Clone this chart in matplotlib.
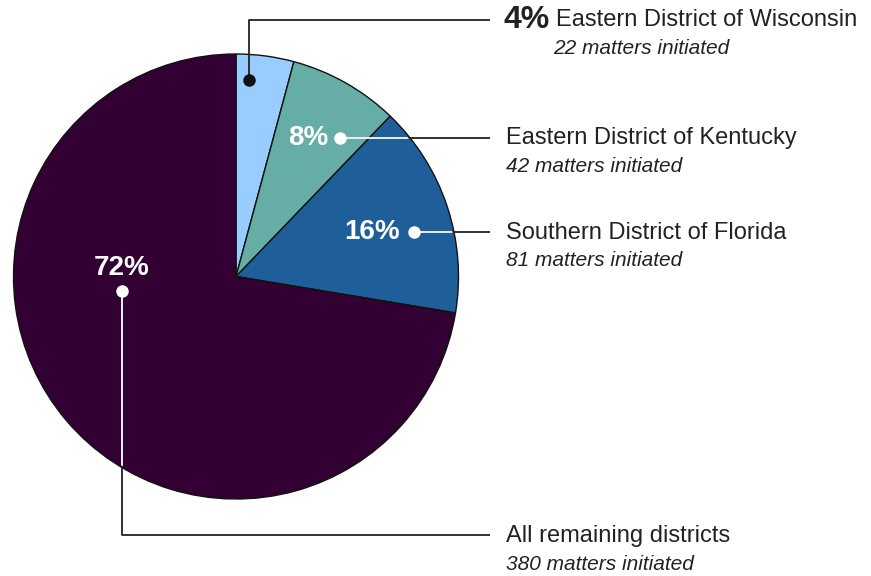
import matplotlib.pyplot as plt
from matplotlib.patches import Circle

# matters initiated per district
districts = ["Eastern District of Wisconsin", "Eastern District of Kentucky",
             "Southern District of Florida", "All remaining districts"]
matters = [22, 42, 81, 380]
pct_labels = ["4%", "8%", "16%", "72%"]
colors = ["#99ccff", "#66ada5", "#1f5f99", "#330033"]

W, H = 871, 576
plt.rcParams["font.family"] = ["Liberation Sans", "DejaVu Sans"]
fig = plt.figure(figsize=(W / 100, H / 100), dpi=100)
ax = fig.add_axes([0, 0, 1, 1])


def py(y):
    # pixel row (top-down) to data y
    return H - y


cx, cy, rad = 236, py(276.5), 222.5
wedges, _ = ax.pie(matters, colors=colors, startangle=90, counterclock=False,
                   center=(cx, cy), radius=rad,
                   wedgeprops=dict(edgecolor="#111111", linewidth=1.0))
ax.set_xlim(0, W)
ax.set_ylim(0, H)
ax.axis("off")

clip = Circle((cx, cy), rad - 1.5, transform=ax.transData)

# label layout: dot position, connector path, text row, line colour inside pie
layout = [
    dict(dot=(249, 80), path=[(249, 80), (249, 20), (490, 20)], row=20, inner="#111111"),
    dict(dot=(340, 138), path=[(340, 138), (490, 138)], row=138, inner="white"),
    dict(dot=(414, 232), path=[(414, 232), (490, 232)], row=233, inner="white"),
    dict(dot=(122, 291), path=[(122, 291), (122, 535), (490, 535)], row=536, inner="white"),
]
pct_pos = [None, (308, 138), (372, 232), (122, 268)]

text_col = "#222222"
name_fs, sub_fs, pct_fs = 17, 15, 20
for i, lay in enumerate(layout):
    xs = [p[0] for p in lay["path"]]
    ys = [py(p[1]) for p in lay["path"]]
    ax.plot(xs, ys, color="#222222", lw=1.3, solid_capstyle="butt", zorder=3)
    if lay["inner"] != "#111111":
        ln, = ax.plot(xs, ys, color=lay["inner"], lw=1.3, zorder=4)
        ln.set_clip_path(clip)
    ax.plot(lay["dot"][0], py(lay["dot"][1]), "o", ms=9,
            color=lay["inner"], mec="none", zorder=5)

    row = lay["row"]
    if i == 0:
        ax.text(503, py(row), pct_labels[i], fontsize=23, fontweight="bold",
                color=text_col, ha="left", va="center")
        ax.text(556, py(row), districts[i], fontsize=name_fs, color=text_col,
                ha="left", va="center")
        ax.text(553, py(row + 28), f"{matters[i]} matters initiated",
                fontsize=sub_fs, style="italic", color=text_col, ha="left", va="center")
    else:
        ax.text(506, py(row), districts[i], fontsize=name_fs, color=text_col,
                ha="left", va="center")
        ax.text(506, py(row + 28), f"{matters[i]} matters initiated",
                fontsize=sub_fs, style="italic", color=text_col, ha="left", va="center")
        px, pyy = pct_pos[i]
        ax.text(px, py(pyy), pct_labels[i], fontsize=pct_fs, fontweight="bold",
                color="white", ha="center", va="center", zorder=6)

fig.savefig("out.png", dpi=100)
